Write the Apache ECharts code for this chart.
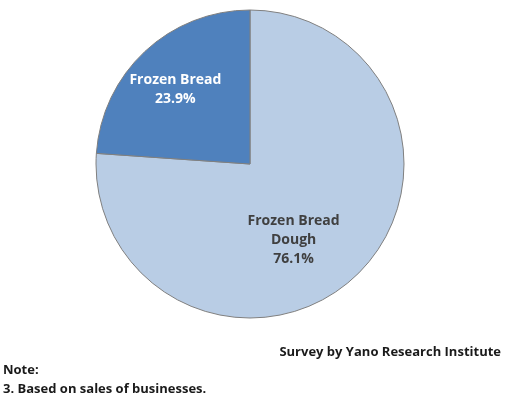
<!DOCTYPE html>
<html><head><meta charset="utf-8">
<script src="https://cdn.jsdelivr.net/npm/echarts@6/dist/echarts.min.js"></script>
<style>html,body{margin:0;padding:0;background:#fff}#c{width:505px;height:398px}</style>
</head><body><div id="c"></div>
<script>
const categories = ['Frozen Bread\nDough', 'Frozen Bread'];
const values = [76.1, 23.9];
const colors = ['#B9CDE5', '#4F81BD'];
const labelColors = ['#404040', '#FFFFFF'];
const labelOffsets = [[-11, 18], [-20, -16]];

const chart = echarts.init(document.getElementById('c'));
const font = '"Open Sans", Lato, sans-serif';
chart.setOption({
  animation: false,
  series: [{
    type: 'pie',
    center: [250, 164],
    radius: [0, 154],
    startAngle: 90,
    clockwise: true,
    label: {
      show: true, position: 'inside',
      fontFamily: font, fontWeight: 'bold', fontSize: 14, lineHeight: 19,
      formatter: p => p.name + '\n' + p.value.toFixed(1) + '%'
    },
    labelLine: { show: false },
    itemStyle: { borderColor: '#7f7f7f', borderWidth: 1 },
    emphasis: { disabled: true },
    data: categories.map((c, i) => ({
      name: c, value: values[i],
      itemStyle: { color: colors[i] },
      label: { color: labelColors[i], offset: labelOffsets[i] }
    }))
  }],
  graphic: [
    { type: 'text', right: 4, top: 346, style: { text: 'Survey by Yano Research Institute', font: 'bold 13px ' + font, fill: '#1a1a1a' } },
    { type: 'text', left: 3, top: 364, style: { text: 'Note:', font: 'bold 13px ' + font, fill: '#1a1a1a' } },
    { type: 'text', left: 3, top: 383, style: { text: '3. Based on sales of businesses.', font: 'bold 13px ' + font, fill: '#1a1a1a' } }
  ]
});
</script></body></html>
